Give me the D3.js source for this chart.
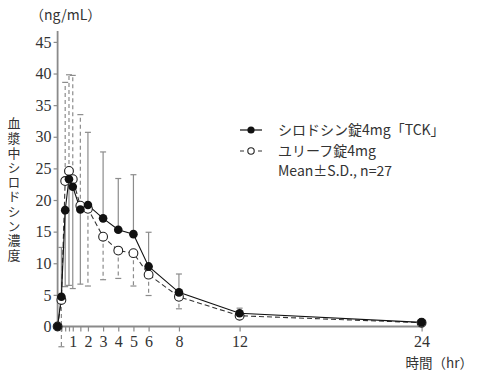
<!DOCTYPE html>
<html><head><meta charset="utf-8">
<script src="https://cdn.jsdelivr.net/npm/d3@7"></script>
<style>body{margin:0;background:#fff}svg{display:block}</style>
</head><body><svg id="c" width="486" height="376"></svg>
<script>
const times   = [0, 0.25, 0.5, 0.75, 1, 1.5, 2, 3, 4, 5, 6, 8, 12, 24];
const tckMean = [0, 4.7, 18.4, 23.3, 22.1, 18.5, 19.2, 17.1, 15.3, 14.6, 9.5, 5.4, 2.1, 0.65];
const tckSD   = [0, 7.8, 12.1, 16.8, 16.1, 11.8, 11.5, 10.5, 8.1, 9.4, 5.4, 2.9, 0.8, 0.3];
const refMean = [0, 4.2, 23.0, 24.6, 23.3, 19.1, 18.6, 14.2, 12.0, 11.6, 8.2, 4.7, 1.7, 0.6];
const refSD   = [0, 7.4, 15.6, 15.2, 16.4, 14.4, 12.2, 6.8, 4.4, 5.2, 3.3, 1.9, 0.4, 0.2];
const xTickVals = [0.25, 0.5, 0.75, 1, 1.5, 2, 3, 4, 5, 6, 8, 12, 24];
const xLabelVals = [1, 2, 3, 4, 5, 6, 8, 12, 24];
const yTickVals = [0, 5, 10, 15, 20, 25, 30, 35, 40, 45];
const seriesNames = ["シロドシン錠4mg「TCK」", "ユリーフ錠4mg"];
const noteText = "Mean±S.D., n=27";
const yUnit = "（ng/mL）";
const yTitle = "血漿中シロドシン濃度";
const xTitle = "時間（hr）";

const svg = d3.select("#c");
const x = d3.scaleLinear().domain([0, 24]).range([57.6, 421.6]);
const y = d3.scaleLinear().domain([0, 45]).range([326.5, 41.9]);
const numFont = "'Liberation Serif','DejaVu Serif',serif";
const jpFont = "'Noto Sans CJK JP','Noto Sans',sans-serif";
const axisCol = "#8a8a8a", textCol = "#333";

// error bars: higher mean shows upper bar, lower mean shows lower bar
function bars(mean, sd, other, dashed) {
  const g = svg.append("g").attr("stroke", "#8c8c8c").attr("stroke-width", 1.2).attr("fill", "none");
  times.forEach((t, i) => {
    if (sd[i] <= 0 || mean[i] === 0) return;
    const up = mean[i] >= other[i];
    const end = up ? mean[i] + sd[i] : mean[i] - sd[i];
    g.append("line").attr("x1", x(t)).attr("x2", x(t)).attr("y1", y(mean[i])).attr("y2", y(end))
      .attr("stroke-dasharray", dashed ? "4,3" : null);
    g.append("line").attr("x1", x(t) - 3).attr("x2", x(t) + 3).attr("y1", y(end)).attr("y2", y(end));
  });
}
bars(refMean, refSD, tckMean, true);
bars(tckMean, tckSD, refMean, false);

// axes
const xa = svg.append("g").attr("transform", `translate(0,${y(0)})`)
  .call(d3.axisBottom(x).tickValues(xTickVals).tickSize(5).tickSizeOuter(0)
    .tickFormat(d => xLabelVals.includes(d) ? d : ""));
xa.select(".domain").attr("d", `M${x(0)},0H${x(24) + 2}`);
const ya = svg.append("g").attr("transform", `translate(${x(0)},0)`)
  .call(d3.axisLeft(y).tickValues(yTickVals).tickSize(4).tickSizeOuter(0));
ya.select(".domain").attr("d", `M0,${y(0) + 1}V31`);
[xa, ya].forEach(a => {
  a.selectAll(".domain").attr("stroke", axisCol).attr("stroke-width", 1.8);
  a.selectAll(".tick line").attr("stroke", axisCol).attr("stroke-width", 1.2);
  a.selectAll("text").attr("fill", textCol).attr("font-family", numFont).attr("font-size", 16);
});
xa.selectAll("text").attr("dy", "0.95em").attr("y", 5);
ya.selectAll("text").attr("x", -6);

// lines
const line = d3.line().x((d, i) => x(times[i])).y(d => y(d));
svg.append("path").datum(refMean).attr("d", line).attr("fill", "none")
  .attr("stroke", "#333").attr("stroke-width", 1.1).attr("stroke-dasharray", "5,3");
svg.append("path").datum(tckMean).attr("d", line).attr("fill", "none")
  .attr("stroke", "#111").attr("stroke-width", 1.1);

// markers
svg.append("g").selectAll("circle").data(refMean).join("circle")
  .attr("cx", (d, i) => x(times[i])).attr("cy", d => y(d)).attr("r", 4.4)
  .attr("fill", "#fff").attr("stroke", "#222").attr("stroke-width", 1.1);
svg.append("g").selectAll("circle").data(tckMean).join("circle")
  .attr("cx", (d, i) => x(times[i])).attr("cy", d => y(d)).attr("r", 4.3)
  .attr("fill", "#111");

// titles
svg.append("text").attr("x", 30).attr("y", 20).text(yUnit)
  .attr("font-family", jpFont).attr("font-size", 14).attr("fill", textCol);
svg.append("text").attr("x", 14).attr("y", 117).text(yTitle)
  .style("writing-mode", "vertical-rl").style("letter-spacing", "1.6px")
  .attr("font-family", jpFont).attr("font-size", 13).attr("fill", textCol);
svg.append("text").attr("x", 473).attr("y", 368).attr("text-anchor", "end").text(xTitle)
  .attr("font-family", jpFont).attr("font-size", 13.5).attr("fill", textCol);

// legend
const lg = svg.append("g");
lg.append("line").attr("x1", 240).attr("x2", 262).attr("y1", 130).attr("y2", 130)
  .attr("stroke", "#111").attr("stroke-width", 1.2);
lg.append("circle").attr("cx", 251).attr("cy", 130).attr("r", 3.6).attr("fill", "#111");
lg.append("line").attr("x1", 240).attr("x2", 262).attr("y1", 151).attr("y2", 151)
  .attr("stroke", "#333").attr("stroke-width", 1.2).attr("stroke-dasharray", "4,5");
lg.append("circle").attr("cx", 251).attr("cy", 151).attr("r", 3.2).attr("fill", "#fff")
  .attr("stroke", "#222").attr("stroke-width", 1.1);
[seriesNames[0], seriesNames[1], noteText].forEach((s, i) => {
  lg.append("text").attr("x", 278).attr("y", [130, 151, 171][i]).attr("dy", "0.35em").text(s)
    .attr("font-family", jpFont).attr("font-size", 14).attr("fill", textCol);
});
</script></body></html>
